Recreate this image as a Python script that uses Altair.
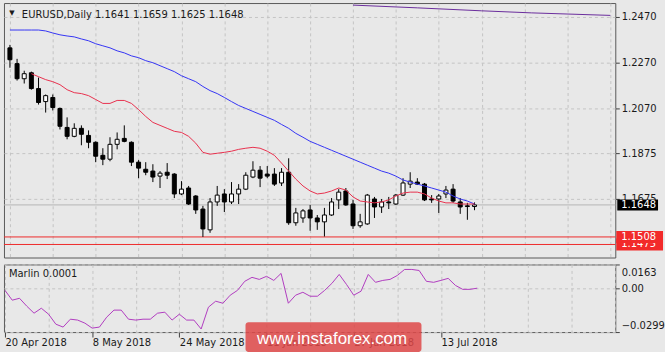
import altair as alt
import pandas as pd

symbol = "EURUSD,Daily"

opens = [1.2335, 1.2266, 1.2200, 1.2226, 1.2157, 1.2100, 1.2118, 1.2070, 1.1987, 1.1948,
         1.1983, 1.1952, 1.1922, 1.1865, 1.1848, 1.1913, 1.1939, 1.1922, 1.1835, 1.1804,
         1.1796, 1.1774, 1.1791, 1.1783, 1.1696, 1.1722, 1.1687, 1.1630, 1.1539, 1.1661,
         1.1696, 1.1661, 1.1696, 1.1717, 1.1770, 1.1800, 1.1783, 1.1783, 1.1744, 1.1791,
         1.1570, 1.1591, 1.1626, 1.1591, 1.1574, 1.1604, 1.1670, 1.1709, 1.1652, 1.1557,
         1.1565, 1.1674, 1.1639, 1.1661, 1.1652, 1.1691, 1.1739, 1.1748, 1.1739, 1.1674,
         1.1674, 1.1696, 1.1717, 1.1661, 1.1644, 1.1641]
highs = [1.2348, 1.2287, 1.2235, 1.2231, 1.2205, 1.2131, 1.2131, 1.2074, 1.2031, 1.2005,
         1.1996, 1.1974, 1.1926, 1.1896, 1.1944, 1.1965, 1.1996, 1.1926, 1.1844, 1.1835,
         1.1826, 1.1796, 1.1831, 1.1787, 1.1752, 1.1731, 1.1691, 1.1644, 1.1678, 1.1731,
         1.1717, 1.1748, 1.1739, 1.1791, 1.1839, 1.1818, 1.1818, 1.1809, 1.1809, 1.1852,
         1.1635, 1.1630, 1.1648, 1.1604, 1.1635, 1.1678, 1.1717, 1.1722, 1.1670, 1.1609,
         1.1696, 1.1683, 1.1674, 1.1683, 1.1696, 1.1765, 1.1791, 1.1765, 1.1744, 1.1691,
         1.1696, 1.1731, 1.1739, 1.1678, 1.1657, 1.1659]
lows = [1.2248, 1.2192, 1.2179, 1.2152, 1.2087, 1.2052, 1.2061, 1.1978, 1.1935, 1.1944,
        1.1909, 1.1896, 1.1835, 1.1822, 1.1839, 1.1891, 1.1922, 1.1818, 1.1765, 1.1778,
        1.1748, 1.1722, 1.1761, 1.1678, 1.1691, 1.1648, 1.1609, 1.1508, 1.1526, 1.1644,
        1.1617, 1.1652, 1.1652, 1.1713, 1.1765, 1.1726, 1.1765, 1.1731, 1.1731, 1.1561,
        1.1557, 1.1570, 1.1535, 1.1539, 1.1510, 1.1600, 1.1630, 1.1644, 1.1543, 1.1548,
        1.1561, 1.1591, 1.1613, 1.1630, 1.1648, 1.1687, 1.1722, 1.1735, 1.1665, 1.1657,
        1.1613, 1.1678, 1.1657, 1.1609, 1.1583, 1.1625]
closes = [1.2283, 1.2200, 1.2222, 1.2157, 1.2096, 1.2126, 1.2074, 1.1992, 1.1948, 1.1983,
          1.1957, 1.1922, 1.1861, 1.1848, 1.1913, 1.1935, 1.1926, 1.1835, 1.1809, 1.1791,
          1.1770, 1.1787, 1.1778, 1.1696, 1.1717, 1.1652, 1.1626, 1.1543, 1.1661, 1.1691,
          1.1661, 1.1696, 1.1717, 1.1778, 1.1800, 1.1765, 1.1774, 1.1739, 1.1791, 1.1570,
          1.1613, 1.1622, 1.1591, 1.1574, 1.1604, 1.1661, 1.1704, 1.1648, 1.1557, 1.1574,
          1.1691, 1.1639, 1.1661, 1.1657, 1.1691, 1.1744, 1.1752, 1.1739, 1.1670, 1.1670,
          1.1687, 1.1713, 1.1665, 1.1639, 1.1641, 1.1648]

ma_slow = [1.2413, 1.2413, 1.2413, 1.2413, 1.2413, 1.2409, 1.2400, 1.2392, 1.2387, 1.2383,
           1.2374, 1.2366, 1.2353, 1.2344, 1.2335, 1.2322, 1.2313, 1.2300, 1.2292, 1.2279,
           1.2270, 1.2257, 1.2244, 1.2231, 1.2213, 1.2200, 1.2187, 1.2166, 1.2148, 1.2135,
           1.2118, 1.2100, 1.2083, 1.2070, 1.2057, 1.2044, 1.2031, 1.2018, 1.2000, 1.1983,
           1.1961, 1.1944, 1.1926, 1.1913, 1.1900, 1.1887, 1.1874, 1.1861, 1.1848, 1.1835,
           1.1822, 1.1809, 1.1796, 1.1787, 1.1774, 1.1757, 1.1748, 1.1739, 1.1731, 1.1722,
           1.1713, 1.1704, 1.1687, 1.1674, 1.1665, 1.1652]

ma_fast_start = 3
ma_fast = [1.2222, 1.2209, 1.2196, 1.2187, 1.2174, 1.2152, 1.2139, 1.2135, 1.2126, 1.2109,
           1.2092, 1.2092, 1.2105, 1.2105, 1.2092, 1.2065, 1.2035, 1.2009, 1.1996, 1.1983,
           1.1970, 1.1965, 1.1948, 1.1918, 1.1878, 1.1870, 1.1874, 1.1878, 1.1883, 1.1891,
           1.1896, 1.1900, 1.1896, 1.1883, 1.1865, 1.1831, 1.1796, 1.1761, 1.1731, 1.1709,
           1.1696, 1.1700, 1.1709, 1.1722, 1.1713, 1.1683, 1.1665, 1.1661, 1.1657, 1.1661,
           1.1670, 1.1687, 1.1700, 1.1704, 1.1704, 1.1696, 1.1678, 1.1665, 1.1657, 1.1657,
           1.1652, 1.1652, 1.1652]

ma_long_bars = [48, 57, 66, 73, 84]
ma_long = [1.2522, 1.2510, 1.2497, 1.2488, 1.2477]

marlin = [-0.0014, -0.0081, -0.0068, -0.0122, -0.0170, -0.0136, -0.0177, -0.0245, -0.0265, -0.0211,
          -0.0217, -0.0238, -0.0272, -0.0265, -0.0197, -0.0149, -0.0149, -0.0211, -0.0217, -0.0211,
          -0.0211, -0.0170, -0.0163, -0.0217, -0.0177, -0.0217, -0.0217, -0.0278, -0.0129, -0.0088,
          -0.0102, -0.0047, -0.0014, 0.0048, 0.0075, 0.0061, 0.0082, 0.0054, 0.0102, -0.0102,
          -0.0047, -0.0027, -0.0054, -0.0054, -0.0014, 0.0034, 0.0095, 0.0027, -0.0047, -0.0020,
          0.0095, 0.0041, 0.0054, 0.0061, 0.0088, 0.0129, 0.0129, 0.0122, 0.0048, 0.0041,
          0.0054, 0.0068, 0.0020, -0.0007, -0.0007, 0.0001]

levels = [1.1508, 1.1475]
price_ticks = [1.2470, 1.2270, 1.2070, 1.1875, 1.1675]
marlin_ticks = [0.0163, 0.0, -0.0299]
date_labels = ["20 Apr 2018", "8 May 2018", "24 May 2018", "11 Jun 2018", "27 Jun 2018", "13 Jul 2018"]
label_step = 12
grid_step = 6
watermark = "www.instaforex.com"

FONT = "DejaVu Sans"
BG = "#e8e8e8"
GRID = "#c4c4c4"
TXT = "#1a1a1a"
W, H_MAIN, H_IND = 615, 256, 68

bid = closes[-1]
header = f"{symbol}  " + " ".join(f"{v:.4f}" for v in (opens[-1], highs[-1], lows[-1], closes[-1]))

bars = pd.DataFrame({"i": list(range(len(closes))), "open": opens, "high": highs,
                     "low": lows, "close": closes})
slow_df = pd.DataFrame({"i": list(range(len(ma_slow))), "v": ma_slow})
fast_df = pd.DataFrame({"i": [ma_fast_start + k for k in range(len(ma_fast))], "v": ma_fast})
long_df = pd.DataFrame({"i": ma_long_bars, "v": ma_long})
marlin_df = pd.DataFrame({"i": list(range(len(marlin))), "v": marlin})
one = pd.DataFrame({"t": [header]})

xscale = alt.Scale(domain=[-0.137, 84.0], nice=False, zero=False)
pscale = alt.Scale(domain=[1.1418, 1.2531], nice=False, zero=False)
mscale = alt.Scale(domain=[marlin_ticks[-1], marlin_ticks[0]], nice=False, zero=False)
grid_vals = list(range(0, 85, grid_step))

x_grid_axis = alt.Axis(values=grid_vals, labels=False, ticks=False, domain=False, grid=True,
                       gridColor=GRID, gridDash=[3, 3], minExtent=0, maxExtent=0, title=None)
p_axis = alt.Axis(orient="right", values=price_ticks, format=".4f", grid=True, gridColor=GRID,
                  gridDash=[3, 3], domain=False, tickSize=4, tickColor="#404040",
                  labelFont=FONT, labelFontSize=10, labelColor=TXT, labelPadding=2,
                  labelOverlap=False, title=None)


def X():
    return alt.X("i:Q", scale=xscale, axis=x_grid_axis, title=None)


def P(field):
    return alt.Y(f"{field}:Q", scale=pscale, axis=p_axis, title=None)


layers = []
layers.append(alt.Chart(pd.DataFrame({"v": [bid]})).mark_rule(color="#b4b4b4", strokeWidth=1)
              .encode(y=P("v")))
layers.append(alt.Chart(pd.DataFrame({"v": levels})).mark_rule(color="#ee2a2a", strokeWidth=1)
              .encode(y=P("v")))
layers.append(alt.Chart(bars).mark_rule(color="#000000", strokeWidth=1)
              .encode(x=X(), y=P("low"), y2="high"))
layers.append(alt.Chart(bars).mark_bar(size=4, stroke="#000000", strokeWidth=1)
              .encode(x=X(), y=P("open"), y2="close",
                      fill=alt.condition("datum.close < datum.open", alt.value("#000000"),
                                         alt.value("#ffffff"))))
layers.append(alt.Chart(long_df).mark_line(color="#6a2c9c", strokeWidth=1, clip=True)
              .encode(x=X(), y=P("v")))
layers.append(alt.Chart(slow_df).mark_line(color="#3434f4", strokeWidth=1)
              .encode(x=X(), y=P("v")))
layers.append(alt.Chart(fast_df).mark_line(color="#e8304e", strokeWidth=1)
              .encode(x=X(), y=P("v")))
# price flags on the right
for v, col, sz, th in [(levels[1], "#f22a2a", 47, 12), (levels[0], "#f22a2a", 47, 12),
                       (bid, "#000000", 41, 11)]:
    d = pd.DataFrame({"v": [v], "s": [f"{v:.4f}"]})
    layers.append(alt.Chart(d).mark_tick(orient="horizontal", size=sz, thickness=th,
                                         color=col, opacity=1)
                  .encode(y=P("v"), x=alt.value(639.5 if sz == 47 else 637.5)))
    layers.append(alt.Chart(d).mark_text(align="left", baseline="middle", font=FONT,
                                         fontSize=10, color="#ffffff")
                  .encode(y=P("v"), x=alt.value(621), text="s:N"))
layers.append(alt.Chart(one).mark_text(text="▼", font=FONT, fontSize=7, color=TXT,
                                       align="center", baseline="middle")
              .encode(x=alt.value(8), y=alt.value(10)))
layers.append(alt.Chart(one).mark_text(align="left", baseline="alphabetic", font=FONT,
                                       fontSize=10, color=TXT)
              .encode(x=alt.value(18), y=alt.value(15), text="t:N"))

main = alt.layer(*layers).properties(width=W, height=H_MAIN)

arr = "[" + ",".join(f"'{s}'" for s in date_labels) + "]"
lab_expr = (f"(datum.value % {label_step} == 0 && datum.value / {label_step} < {len(date_labels)})"
            f" ? {arr}[datum.value / {label_step}] : ''")
x_ind_axis = alt.Axis(values=grid_vals, labelExpr=lab_expr, grid=True, gridColor=GRID,
                      gridDash=[3, 3], domain=False, ticks=True, tickSize=5, tickColor="#404040",
                      tickOpacity={"condition": {"test": f"datum.value % {label_step} != 0 || datum.value > {label_step * (len(date_labels) - 1)}",
                                                 "value": 0}, "value": 1},
                      labelAlign="left", labelFlush=False, labelOverlap=False, labelFont=FONT,
                      labelFontSize=10, labelColor=TXT, labelPadding=1, title=None)
m_axis = alt.Axis(orient="right", values=marlin_ticks,
                  labelExpr="datum.value == 0 ? '0.00' : format(datum.value, '.4f')",
                  grid=True, gridColor=GRID, gridDash=[3, 3], domain=False, tickSize=4,
                  tickColor="#404040", labelFont=FONT, labelFontSize=10, labelColor=TXT,
                  labelPadding=2, labelOverlap=False,
                  labelOffset={"condition": [{"test": "datum.value > 0.01", "value": 8},
                                             {"test": "datum.value < -0.02", "value": -7}],
                               "value": 0},
                  title=None)

mx = alt.X("i:Q", scale=xscale, axis=x_ind_axis, title=None)
my = alt.Y("v:Q", scale=mscale, axis=m_axis, title=None)
ind_layers = [
    alt.Chart(marlin_df).mark_line(color="#b03cc0", strokeWidth=1).encode(x=mx, y=my),
    alt.Chart(pd.DataFrame({"t": [f"Marlin {marlin[-1]:.4f}"]}))
    .mark_text(align="left", baseline="alphabetic", font=FONT, fontSize=10, color=TXT)
    .encode(x=alt.value(5), y=alt.value(13), text="t:N"),
    alt.Chart(pd.DataFrame({"t": [watermark]}))
    .mark_rect(fill="#de4848", opacity=0.85, cornerRadius=3)
    .encode(x=alt.value(243), x2=alt.value(420), y=alt.value(58), y2=alt.value(88)),
    alt.Chart(pd.DataFrame({"t": [watermark]}))
    .mark_text(font="Liberation Sans", fontSize=17, color="#ffffff", align="center",
               baseline="alphabetic")
    .encode(x=alt.value(330), y=alt.value(80), text="t:N"),
]
ind = alt.layer(*ind_layers).properties(width=W, height=H_IND)

chart = (alt.vconcat(main, ind, spacing=5)
         .properties(background=BG, padding={"left": 2, "top": 1, "right": 0, "bottom": 0})
         .configure_view(stroke="#5a5a5a", strokeWidth=1))

chart.save("out.html", embed_options={"renderer": "svg", "actions": False})
